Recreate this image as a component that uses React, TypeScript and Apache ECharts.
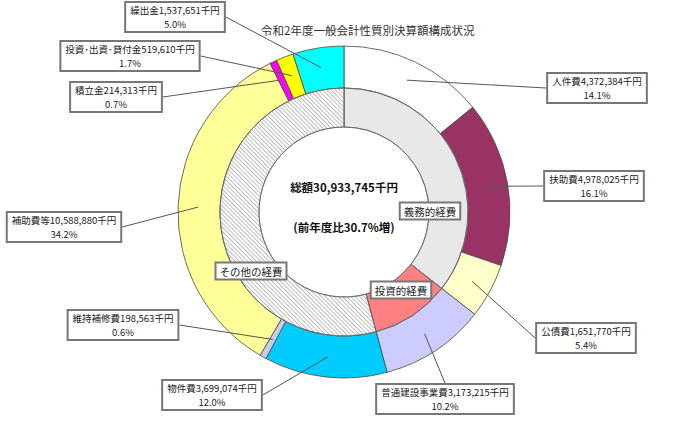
import React, { useEffect, useRef } from 'react';
import * as echarts from 'echarts';

const titleText = '令和2年度一般会計性質別決算額構成状況';
const totalText = '総額30,933,745千円';
const changeText = '(前年度比30.7%増)';

const outerNames = ['人件費', '扶助費', '公債費', '普通建設事業費', '物件費', '維持補修費', '補助費等', '積立金', '投資･出資･貸付金', '繰出金'];
const outerValues = [4372384, 4978025, 1651770, 3173215, 3699074, 198563, 10588880, 214313, 519610, 1537651];
const outerPercents = ['14.1%', '16.1%', '5.4%', '10.2%', '12.0%', '0.6%', '34.2%', '0.7%', '1.7%', '5.0%'];
const outerColors = ['#FFFFFF', '#993366', '#FFFFCC', '#CCCCFF', '#00CCFF', '#C4CCF4', '#FFFF99', '#FF00FF', '#FFFF00', '#00FFFF'];

const innerNames = ['義務的経費', '投資的経費', 'その他の経費'];
const innerGroups = [[0, 1, 2], [3], [4, 5, 6, 7, 8, 9]];
const innerColors = ['#E8E8E8', '#FF8080', '#FFFFFF'];

// label box centres (layout only)
const outerLabelPos = [
  [597, 88], [594, 186], [586, 338], [445, 399], [212, 395],
  [123, 325], [64, 227], [116, 97], [130, 56], [175, 17],
];
const innerLabelPos = [[430, 211], [401, 290], [251, 271]];

const FONT = '"Noto Sans CJK JP", "Noto Sans CJK SC", sans-serif';
const CX = 344;
const CY = 212;

function fmt(v: number) {
  return v.toString().replace(/\B(?=(\d{3})+(?!\d))/g, ',');
}

export default function App() {
  const ref = useRef<HTMLDivElement>(null);
  useEffect(() => {
    if (!ref.current) return;
    const chart = echarts.init(ref.current, undefined, { renderer: 'svg' });
    const innerValues = innerGroups.map((g) => g.reduce((s, i) => s + outerValues[i], 0));

    const boxLabel = {
      fontFamily: FONT,
      fontSize: 9.5,
      lineHeight: 14,
      color: '#222',
      backgroundColor: '#fff',
      borderColor: '#777',
      borderWidth: 2,
      padding: [0, 4, 0, 4],
      align: 'center',
    };

    const option: any = {
      animation: false,
      backgroundColor: '#fff',
      title: {
        text: titleText,
        left: 256,
        top: 19,
        textStyle: { fontFamily: FONT, fontSize: 11.5, fontWeight: 'normal', color: '#333' },
      },
      graphic: [
        {
          type: 'text', x: CX, y: 187,
          style: { text: totalText, font: `bold 11.5px ${FONT}`, fill: '#111', align: 'center', verticalAlign: 'middle' },
          z: 100,
        },
        {
          type: 'text', x: CX, y: 227,
          style: { text: changeText, font: `bold 11.5px ${FONT}`, fill: '#111', align: 'center', verticalAlign: 'middle' },
          z: 100,
        },
      ],
      series: [
        {
          type: 'pie',
          center: [CX, CY],
          radius: [124, 166],
          startAngle: 90,
          clockwise: true,
          silent: true,
          avoidLabelOverlap: false,
          label: { show: false },
          labelLine: { show: false },
          emphasis: { disabled: true },
          itemStyle: { borderColor: '#4a4a3a', borderWidth: 0.8 },
          data: outerNames.map((n, i) => ({
            name: n,
            value: outerValues[i],
            itemStyle: { color: outerColors[i] },
          })),
        },
        {
          type: 'pie',
          center: [CX, CY],
          radius: [85, 124],
          startAngle: 90,
          clockwise: true,
          silent: true,
          avoidLabelOverlap: false,
          emphasis: { disabled: true },
          itemStyle: { borderColor: '#666', borderWidth: 0.8 },
          label: { show: true, position: 'inside', formatter: '{b}', ...boxLabel, fontSize: 10.5, lineHeight: 15, padding: [0, 3, 0, 3] },
          labelLine: { show: false },
          labelLayout: (p: any) => ({
            x: innerLabelPos[p.dataIndex][0],
            y: innerLabelPos[p.dataIndex][1],
            align: 'center',
            verticalAlign: 'middle',
          }),
          data: innerNames.map((n, i) => ({
            name: n,
            value: innerValues[i],
            itemStyle: {
              color: innerColors[i],
              decal:
                i === 2
                  ? { symbol: 'rect', symbolSize: 1, color: 'rgba(160,160,160,0.7)', dashArrayX: [1, 0], dashArrayY: [1, 2], rotation: Math.PI / 4 }
                  : { symbol: 'none' },
            },
          })),
        },
        {
          type: 'pie',
          center: [CX, CY],
          radius: [145, 146],
          startAngle: 90,
          clockwise: true,
          silent: true,
          z: 5,
          avoidLabelOverlap: false,
          emphasis: { disabled: true },
          itemStyle: { color: 'rgba(0,0,0,0)', borderWidth: 0 },
          label: {
            show: true,
            position: 'outside',
            formatter: (p: any) => `${outerNames[p.dataIndex]}${fmt(outerValues[p.dataIndex])}千円\n${outerPercents[p.dataIndex]}`,
            ...boxLabel,
          },
          labelLine: { show: true, length: 5, length2: 0, lineStyle: { color: '#555', width: 1 } },
          labelLayout: (p: any) => ({
            x: outerLabelPos[p.dataIndex][0],
            y: outerLabelPos[p.dataIndex][1],
            align: 'center',
            verticalAlign: 'middle',
          }),
          data: outerNames.map((n, i) => ({ name: n, value: outerValues[i] })),
        },
      ],
    };
    chart.setOption(option);
    return () => chart.dispose();
  }, []);
  return <div ref={ref} style={{ position: 'absolute', left: 0, top: 0, width: 700, height: 427 }} />;
}
